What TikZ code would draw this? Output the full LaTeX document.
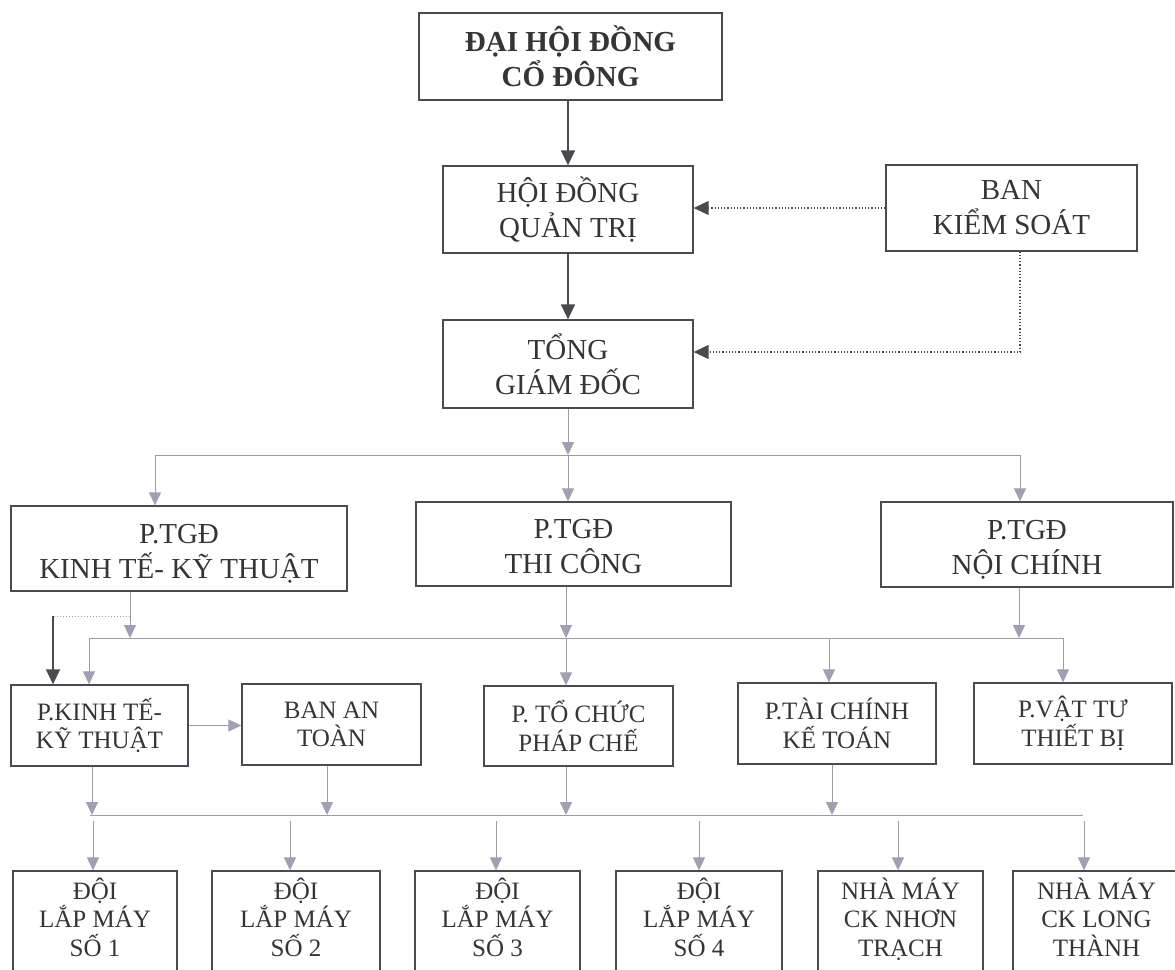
\documentclass[tikz,border=0pt]{standalone}
\usepackage{fontspec}
\setmainfont{Liberation Serif}
\usetikzlibrary{arrows.meta}
\definecolor{boxgray}{HTML}{4A4A50}
\definecolor{txtgray}{HTML}{353538}
\definecolor{lingray}{HTML}{9C9CA6}
\definecolor{headgray}{HTML}{A0A0B0}
\begin{document}
\begin{tikzpicture}[x=1pt,y=-1pt,
    unit/.style={draw=boxgray, line width=1.3pt, text=txtgray, align=center, inner sep=0pt},
    bigtxt/.style={font=\fontsize{29}{35}\selectfont},
    smalltxt/.style={font=\fontsize{25}{28.5}\selectfont},
    depunit/.style={unit, bigtxt, text height=64pt, text depth=5pt},
    lowunit/.style={unit, smalltxt, minimum height=108pt, text height=67pt, text depth=5pt},
    darr/.style={draw=boxgray, line width=1.5pt, -{Triangle[length=15pt,width=14pt,fill=boxgray]}},
    dotarr/.style={draw=boxgray, line width=1.2pt, dotted, -{Triangle[length=15pt,width=14pt,fill=boxgray]}},
    gline/.style={draw=lingray, line width=1pt},
    garr/.style={draw=lingray, line width=1pt, -{Triangle[length=13pt,width=12pt,color=headgray,fill=headgray]}},
    gdot/.style={draw=lingray, line width=1pt, dotted}]
    \useasboundingbox (0,0) rectangle (1175,969);
    \clip (0,0) rectangle (1175,969);
    \fill [white] (0,0) rectangle (1175,969);
    % top levels
    \node [unit, bigtxt, minimum width=303pt, minimum height=87pt] (dhcd) at (570.5,56.5) {\textbf{ĐẠI HỘI ĐỒNG}\\\textbf{CỔ ĐÔNG}};
    \node [unit, bigtxt, minimum width=250pt, minimum height=87pt] (hdqt) at (568,209.5) {HỘI ĐỒNG\\QUẢN TRỊ};
    \node [unit, bigtxt, minimum width=251pt, minimum height=86pt] (bks) at (1011.5,208) {BAN\\KIỂM SOÁT};
    \node [unit, bigtxt, minimum width=250pt, minimum height=88pt] (tgd) at (568,364) {TỔNG\\GIÁM ĐỐC};
    % deputies
    \node [depunit, minimum width=336pt, minimum height=85pt] (ptgdkt) at (179,548.5) {P.TGĐ\\KINH TẾ- KỸ THUẬT};
    \node [depunit, minimum width=315pt, minimum height=84pt] (ptgdtc) at (573.5,544) {P.TGĐ\\THI CÔNG};
    \node [depunit, minimum width=292pt, minimum height=85pt] (ptgdnc) at (1027,544.5) {P.TGĐ\\NỘI CHÍNH};
    % departments
    \node [unit, smalltxt, minimum width=177pt, minimum height=81pt] (pkt) at (99.5,725.5) {P.KINH TẾ-\\KỸ THUẬT};
    \node [unit, smalltxt, minimum width=179pt, minimum height=81pt] (banat) at (331.5,724.5) {BAN AN\\TOÀN};
    \node [unit, smalltxt, minimum width=189pt, minimum height=80pt] (ptc) at (578.5,726) {P. TỔ CHỨC\\PHÁP CHẾ};
    \node [unit, smalltxt, minimum width=198pt, minimum height=81pt] (ptck) at (837,723.5) {P.TÀI CHÍNH\\KẾ TOÁN};
    \node [unit, smalltxt, minimum width=198pt, minimum height=81pt] (pvt) at (1073,723.5) {P.VẬT TƯ\\THIẾT BỊ};
    % units
    \node [lowunit, minimum width=164pt] (doi1) at (95,925) {ĐỘI\\LẮP MÁY\\SỐ 1};
    \node [lowunit, minimum width=168pt] (doi2) at (296,925) {ĐỘI\\LẮP MÁY\\SỐ 2};
    \node [lowunit, minimum width=165pt] (doi3) at (497.5,925) {ĐỘI\\LẮP MÁY\\SỐ 3};
    \node [lowunit, minimum width=166pt] (doi4) at (699,925) {ĐỘI\\LẮP MÁY\\SỐ 4};
    \node [lowunit, minimum width=165pt] (nmnt) at (900.5,925) {NHÀ MÁY\\CK NHƠN\\TRẠCH};
    \node [lowunit, minimum width=167pt] (nmlt) at (1096.5,925) {NHÀ MÁY\\CK LONG\\THÀNH};
    % bus points
    \coordinate (busa) at (568,455);
    \coordinate (busb) at (566,638);
    \coordinate (busc) at (566,815);
    \coordinate (bksdn) at (1020,352);
    \coordinate (ktbr) at (130,616);
    % dark connectors
    \draw [darr] (hdqt.north |- dhcd.south) -- (hdqt.north);
    \draw [darr] (hdqt.south) -- (tgd.north);
    \draw [dotarr] (bks.west) -- (hdqt.east |- bks.west);
    \draw [dotarr] (bks.south -| bksdn) -- (bksdn) -- (tgd.east |- bksdn);
    % to deputies
    \draw [garr] (tgd.south -| busa) -- (busa);
    \draw [gline] (155,455) -- (1020,455);
    \draw [garr] (busa) -- (ptgdtc.north -| busa);
    \draw [garr] (155,455) -- (ptgdkt.north -| 155,0);
    \draw [garr] (1020,455) -- (ptgdnc.north -| 1020,0);
    % to departments
    \draw [garr] (ptgdkt.south -| ktbr) -- (ktbr |- busb);
    \draw [gdot] (ktbr) -- (53,616);
    \draw [darr] (53,616) -- (pkt.north -| 53,0);
    \draw [garr] (ptgdtc.south -| busb) -- (busb);
    \draw [garr] (ptgdnc.south -| 1019,0) -- (1019,638);
    \draw [gline] (89,638) -- (1063,638);
    \draw [garr] (89,638) -- (pkt.north -| 89,0);
    \draw [garr] (busb) -- (ptc.north -| busb);
    \draw [garr] (829,638) -- (ptck.north -| 829,0);
    \draw [garr] (1063,638) -- (pvt.north -| 1063,0);
    \draw [garr] (pkt.east) -- (banat.west |- pkt.east);
    % to units
    \draw [garr] (pkt.south -| 92,0) -- (92,815);
    \draw [garr] (banat.south -| 327,0) -- (327,815);
    \draw [garr] (ptc.south -| busc) -- (busc);
    \draw [garr] (ptck.south -| 832,0) -- (832,815);
    \draw [gline] (90,815) -- (1083,815);
    \foreach \u/\xx in {doi1/93, doi2/290, doi3/496, doi4/699, nmnt/898, nmlt/1084}
        \draw [garr] (\xx,821) -- (\u.north -| \xx,0);
\end{tikzpicture}
\end{document}
